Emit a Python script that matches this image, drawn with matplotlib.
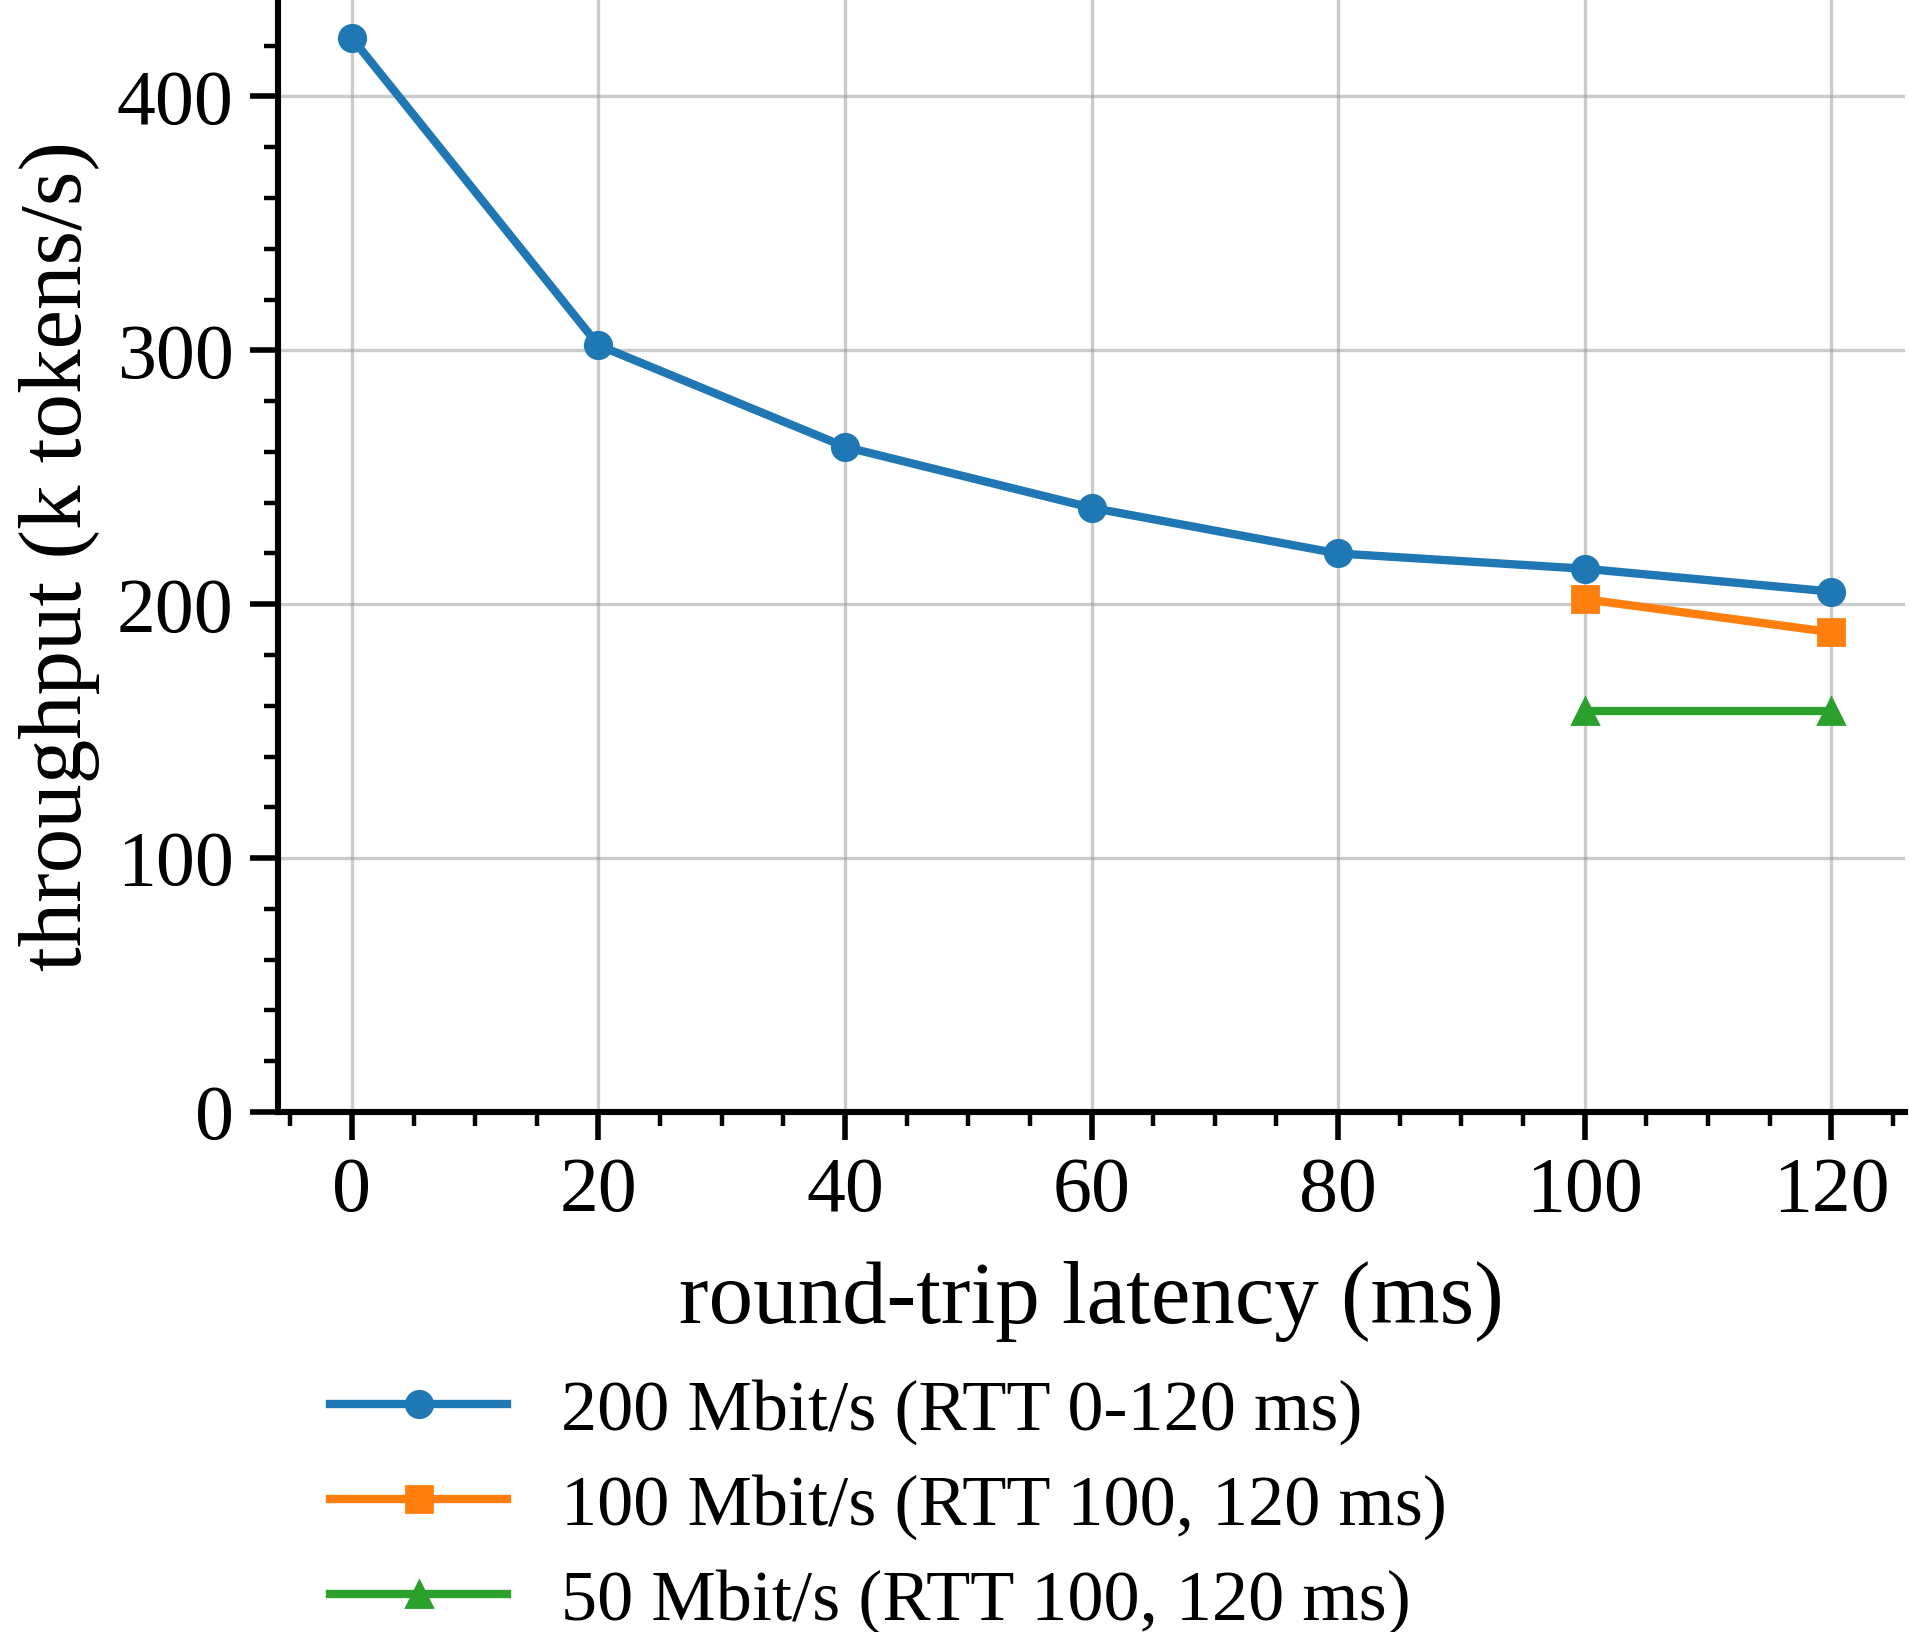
import numpy as np
import matplotlib
matplotlib.use("Agg")
from matplotlib import pyplot as plt
from matplotlib.ticker import MultipleLocator

# data
rtt_200 = [0, 20, 40, 60, 80, 100, 120]
tput_200 = [423, 302, 262, 238, 220, 214, 205]
rtt_100 = [100, 120]
tput_100 = [202, 189]
rtt_50 = [100, 120]
tput_50 = [158, 158]
labels = ["200 Mbit/s (RTT 0-120 ms)",
          "100 Mbit/s (RTT 100, 120 ms)",
          "50 Mbit/s (RTT 100, 120 ms)"]

plt.rcParams['font.family'] = ['Liberation Serif', 'DejaVu Serif']

dpi = 200
fig = plt.figure(figsize=(1909 / dpi, 1632 / dpi), dpi=dpi)
ax = fig.add_axes([0.1456, 0.3186, 0.998 - 0.1456, 1.0 - 0.3186])

lw = 3.0
ms = 9.5
ax.plot(rtt_200, tput_200, '-o', color='#1f77b4', lw=lw, ms=ms, label=labels[0])
ax.plot(rtt_100, tput_100, '-s', color='#ff7f0e', lw=lw, ms=ms, label=labels[1])
ax.plot(rtt_50, tput_50, '-^', color='#2ca02c', lw=lw, ms=ms, label=labels[2])

ax.set_xlim(-6, 126)
ax.set_ylim(0, 438)
ax.xaxis.set_major_locator(MultipleLocator(20))
ax.xaxis.set_minor_locator(MultipleLocator(5))
ax.yaxis.set_major_locator(MultipleLocator(100))
ax.yaxis.set_minor_locator(MultipleLocator(20))

for side in ['top', 'right']:
    ax.spines[side].set_visible(False)
for side in ['left', 'bottom']:
    ax.spines[side].set_linewidth(2.2)

ax.tick_params(which='major', direction='out', length=10, width=2.0,
               labelsize=28, pad=6)
ax.tick_params(which='minor', direction='out', length=5, width=1.6)
ax.grid(True, which='major', color='#999999', lw=1.2, alpha=0.5)
ax.set_axisbelow(True)

ax.set_xlabel("round-trip latency (ms)", fontsize=32, labelpad=12)
ax.set_ylabel("throughput (k tokens/s)", fontsize=32, labelpad=6)

fig.legend(loc='upper left', bbox_to_anchor=(0.173, 0.155), frameon=False,
           fontsize=26, handlelength=2.45, handletextpad=0.75, labelspacing=0.4,
           borderaxespad=0, borderpad=0)

fig.savefig("out.png", dpi=dpi)
